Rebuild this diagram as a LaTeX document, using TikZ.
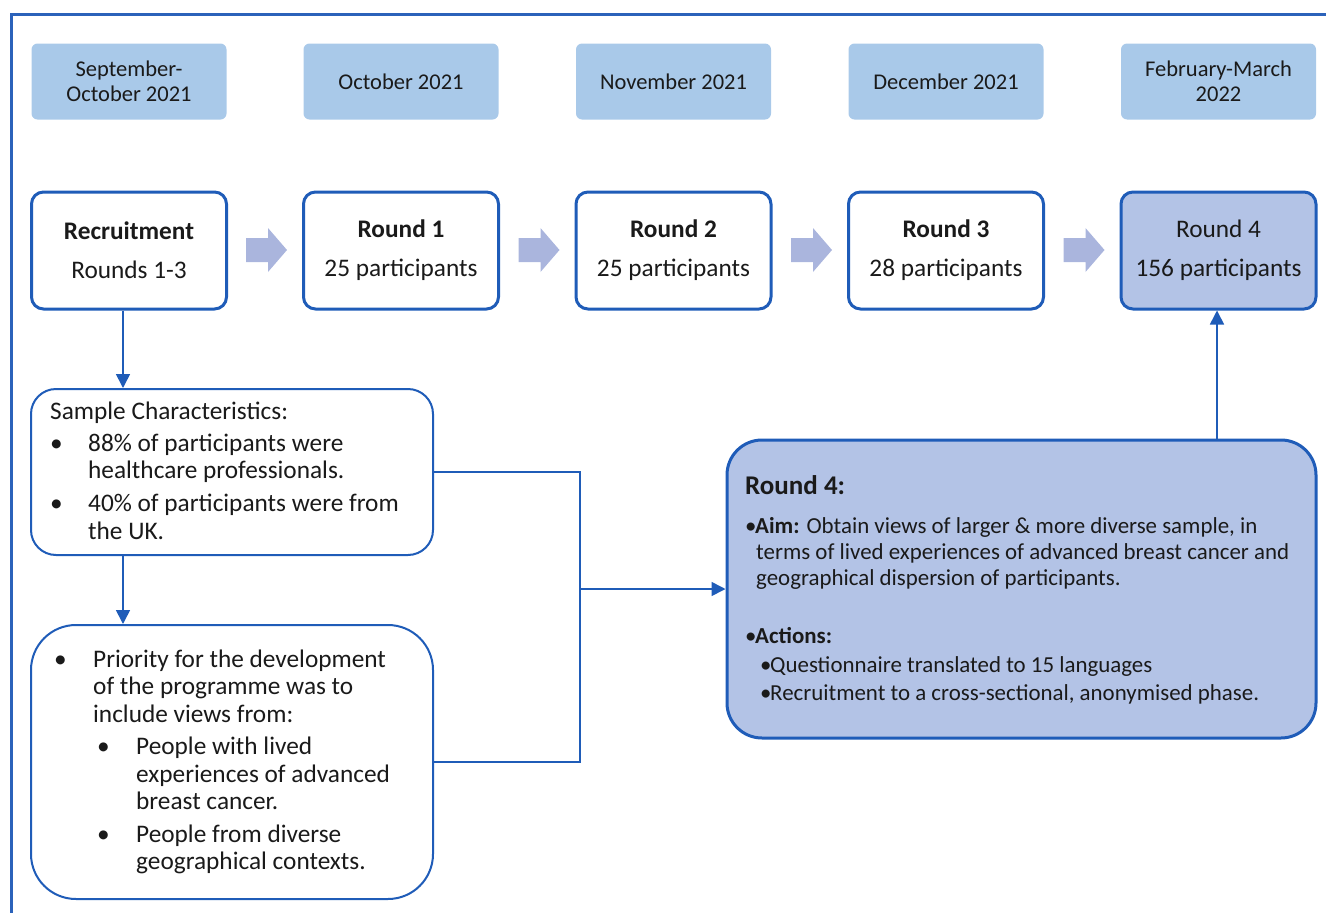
\documentclass[tikz,border=0pt]{standalone}
\usepackage{fontspec}
\setmainfont{Carlito}
\usetikzlibrary{arrows.meta}
\definecolor{frameblue}{HTML}{2B62BA}
\definecolor{boxblue}{HTML}{1F5CB8}
\definecolor{datefill}{HTML}{A9C9E9}
\definecolor{arrowfill}{HTML}{AAB5DD}
\definecolor{rfourfill}{HTML}{B3C3E6}
\definecolor{txt}{HTML}{1A1A1A}
\begin{document}
\begin{tikzpicture}[x=1pt,y=-1pt,
  datebox/.style={fill=datefill, rounded corners=6pt, minimum width=195pt, minimum height=76pt, align=center, inner sep=0pt, text=txt, font=\fontsize{22.5}{25.5}\selectfont},
  roundbox/.style={draw=boxblue, line width=3pt, fill=white, rounded corners=12pt, minimum width=195pt, minimum height=117pt, align=center, inner sep=0pt, text=txt, font=\fontsize{25.3}{39}\selectfont},
  panel/.style={draw=boxblue, line width=2pt, fill=white},
  bigpanel/.style={draw=boxblue, line width=3pt, fill=rfourfill, rounded corners=35pt},
  conn/.style={draw=boxblue, line width=1.6pt},
  tip/.style={-{Triangle[length=14pt,width=14pt]}},
  blockarrow/.style={fill=arrowfill},
  ptxt/.style={anchor=mid west, inner sep=0pt, text=txt, font=\fontsize{25.3}{29}\selectfont},
  rtxt/.style={anchor=mid west, inner sep=0pt, text=txt, font=\fontsize{22.9}{27}\selectfont}
]
\useasboundingbox (0,0) rectangle (1326,913);
% frame
\draw[frameblue, line width=3pt] (11,913) -- (11,14) -- (1326,14);

% date boxes
\node[datebox] (d1) at (129,81.5) {September-\\October 2021};
\node[datebox] (d2) at (401,81.5) {October 2021};
\node[datebox] (d3) at (673.5,81.5) {November 2021};
\node[datebox] (d4) at (946,81.5) {December 2021};
\node[datebox] (d5) at (1218.5,81.5) {February-March\\2022};

% round boxes
\node[roundbox] (rec) at (129,250.5) {\textbf{Recruitment}\\Rounds 1-3};
\node[roundbox] (r1) at (401,250.5) {\textbf{Round 1}\\25 participants};
\node[roundbox] (r2) at (673.5,250.5) {\textbf{Round 2}\\25 participants};
\node[roundbox] (r3) at (946,250.5) {\textbf{Round 3}\\28 participants};
\node[roundbox, fill=rfourfill] (r4) at (1218.5,250.5) {Round 4\\156 participants};

% block arrows
\foreach \x in {246,518.5,791,1063.5}{
  \fill[blockarrow] (\x,238) -- (\x+22,238) -- (\x+22,228) -- (\x+41,250) -- (\x+22,272) -- (\x+22,262) -- (\x,262) -- cycle;
}

% panels
\node[panel, rounded corners=25pt, minimum width=402pt, minimum height=166pt] (sample) at (232,472) {};
\node[panel, rounded corners=45pt, minimum width=402pt, minimum height=274pt] (prio) at (232,762) {};
\node[bigpanel, minimum width=589pt, minimum height=298pt] (big) at (1021.5,589) {};

% sample text
\node[ptxt] (s0) at (50,417) {Sample Characteristics:};
\node[ptxt] (s1b) at (50,449) {•};
\node[ptxt] (s1) at (88,449) {88\% of participants were};
\node[ptxt] (s2) at (88,476) {healthcare professionals.};
\node[ptxt] (s3b) at (50,509) {•};
\node[ptxt] (s3) at (88,509) {40\% of participants were from};
\node[ptxt] (s4) at (88,537) {the UK.};

% priority text
\node[ptxt] (p1b) at (54,665) {•};
\node[ptxt] (p1) at (93,665) {Priority for the development};
\node[ptxt] (p2) at (93,692) {of the programme was to};
\node[ptxt] (p3) at (93,720) {include views from:};
\node[ptxt] (p4b) at (97,752) {•};
\node[ptxt] (p4) at (136,752) {People with lived};
\node[ptxt] (p5) at (136,780) {experiences of advanced};
\node[ptxt] (p6) at (136,807) {breast cancer.};
\node[ptxt] (p7b) at (97,840) {•};
\node[ptxt] (p7) at (136,840) {People from diverse};
\node[ptxt] (p8) at (136,867) {geographical contexts.};

% round 4 text
\node[rtxt, font=\fontsize{27}{30}\selectfont\bfseries] (t0) at (745,492) {Round 4:};
\node[rtxt] (t1b) at (745,531) {•};
\node[rtxt] (t1) at (755,531) {\textbf{Aim:} Obtain views of larger \& more diverse sample, in};
\node[rtxt] (t2) at (756,557) {terms of lived experiences of advanced breast cancer and};
\node[rtxt] (t3) at (756,583) {geographical dispersion of participants.};
\node[rtxt] (t4b) at (745,641) {•};
\node[rtxt] (t4) at (755,641) {\textbf{Actions:}};
\node[rtxt] (t5b) at (760,670) {•};
\node[rtxt] (t5) at (770,670) {Questionnaire translated to 15 languages};
\node[rtxt] (t6b) at (760,698) {•};
\node[rtxt] (t6) at (770,698) {Recruitment to a cross-sectional, anonymised phase.};

% connectors
\coordinate (xa) at (123,0);
\coordinate (xb) at (1217,0);
\coordinate (jn) at (580,589);
\draw[conn, tip] (rec.south -| xa) -- (sample.north -| xa);
\draw[conn, tip] (sample.south -| xa) -- (prio.north -| xa);
\draw[conn] (sample.east) -- (sample.east -| jn) -- (prio.east -| jn) -- (prio.east);
\draw[conn, tip] (jn) -- (big.west);
\draw[conn, tip] (big.north -| xb) -- (r4.south -| xb);
\end{tikzpicture}
\end{document}
